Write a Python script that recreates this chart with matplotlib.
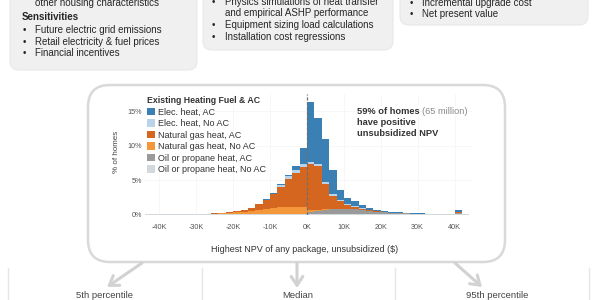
import matplotlib
matplotlib.use('Agg')
import matplotlib.pyplot as plt
import numpy as np
from matplotlib.patches import FancyBboxPatch, Patch

plt.rcParams['font.family'] = ['Liberation Sans', 'DejaVu Sans']

# ---------------- data ----------------
bin_edges_k = list(range(-44, 46, 2))  # $K, 2K-wide bins

categories = ["Elec. heat, AC", "Elec. heat, No AC", "Natural gas heat, AC",
              "Natural gas heat, No AC", "Oil or propane heat, AC", "Oil or propane heat, No AC"]

# % of homes per bin (bins -44..42 lower edges)
oil_noac = [0.1, 0.1, 0.1, 0.1, 0.1, 0.1, 0.1, 0.1, 0.1, 0.05, 0.05, 0.05, 0.05, 0.05, 0.05, 0.05,
            0.05, 0.05, 0.05, 0.05, 0.05, 0.05, 0.1, 0.1, 0.1, 0.1, 0.08, 0.08, 0.07, 0.06, 0.05, 0.04,
            0.03, 0.03, 0.02, 0.02, 0.02, 0.01, 0.01, 0.01, 0.01, 0.01, 0.03, 0.06]
oil_ac = [0, 0, 0, 0, 0, 0, 0, 0, 0, 0, 0, 0, 0, 0.02, 0.02, 0.03,
          0.03, 0.03, 0.04, 0.05, 0.05, 0.08, 0.2, 0.4, 0.6, 0.7, 0.75, 0.75, 0.7, 0.6, 0.48, 0.36,
          0.27, 0.2, 0.16, 0.13, 0.1, 0.08, 0.07, 0.06, 0.05, 0.05, 0.25, 0]
ng_noac = [0, 0, 0, 0, 0, 0, 0, 0, 0, 0.05, 0.1, 0.15, 0.25, 0.35, 0.45, 0.6,
           0.75, 0.85, 0.95, 1.0, 1.0, 0.9, 0.4, 0.2, 0.1, 0.05, 0.03, 0.02, 0.02, 0.01, 0.01, 0,
           0, 0, 0, 0, 0, 0, 0, 0, 0, 0, 0, 0]
ng_ac = [0, 0, 0, 0, 0, 0, 0, 0, 0, 0.05, 0.05, 0.1, 0.15, 0.28, 0.48, 0.82,
         1.32, 2.02, 3.01, 4.1, 4.9, 5.9, 6.6, 6.3, 3.6, 1.9, 1.1, 0.6, 0.35, 0.2, 0.12, 0.08,
         0.05, 0.03, 0.02, 0.02, 0.01, 0.01, 0.01, 0.01, 0, 0, 0.05, 0]
elec_noac = [0, 0, 0, 0, 0, 0, 0, 0, 0, 0, 0, 0, 0, 0, 0, 0,
             0, 0.05, 0.2, 0.4, 0.45, 0.4, 0.3, 0.4, 0.3, 0.2, 0.15, 0.1, 0.08, 0.06, 0.05, 0.04,
             0.03, 0.02, 0.02, 0.01, 0.01, 0.01, 0.01, 0, 0, 0, 0.02, 0]
elec_ac = [0, 0, 0, 0, 0, 0, 0, 0, 0, 0, 0, 0, 0, 0, 0, 0,
           0.05, 0.1, 0.15, 0.2, 0.55, 2.27, 8.7, 6.6, 6.3, 3.55, 1.49, 0.85, 0.68, 0.47, 0.29, 0.18,
           0.12, 0.1, 0.08, 0.07, 0.06, 0.05, 0.04, 0.04, 0.04, 0.04, 0.25, 0]

colors = ["#3a80b4", "#b9d4e8", "#d5661f", "#f4963a", "#9a9a9a", "#d3d8dc"]

x_ticks = [-40, -30, -20, -10, 0, 10, 20, 30, 40]
x_tick_labels = ["-40K", "-30K", "-20K", "-10K", "0K", "10K", "20K", "30K", "40K"]
y_ticks = [0, 5, 10, 15]
y_tick_labels = ["0%", "5%", "10%", "15%"]

# ---------------- figure ----------------
fig = plt.figure(figsize=(6, 3), dpi=100)
bg = fig.add_axes([0, 0, 1, 1], zorder=0)
bg.set_xlim(0, 600)
bg.set_ylim(300, 0)
bg.axis('off')

TXT = '#262626'
# top boxes
for x0, x1, y1 in [(10, 197, 70), (203, 393, 50), (400, 588, 25)]:
    bg.add_patch(FancyBboxPatch((x0, -30), x1 - x0, y1 + 30,
                                boxstyle='round,pad=0,rounding_size=9',
                                fc='#f0f0f0', ec='#e8e8e8', lw=0.8))
fs_top = 7.0
bg.text(35, 2.5, 'other housing characteristics', fontsize=fs_top, color=TXT, va='center')
bg.text(22, 16.7, 'Sensitivities', fontsize=fs_top, color=TXT, va='center', fontweight='bold')
for y, s in [(30, 'Future electric grid emissions'), (41.7, 'Retail electricity & fuel prices'),
             (53.3, 'Financial incentives')]:
    bg.text(23, y, '•', fontsize=fs_top, color=TXT, va='center')
    bg.text(35, y, s, fontsize=fs_top, color=TXT, va='center')

bg.text(212, 1.7, '•', fontsize=fs_top, color=TXT, va='center')
bg.text(225, 1.7, 'Physics simulations of heat transfer', fontsize=fs_top, color=TXT, va='center')
bg.text(225, 13.3, 'and empirical ASHP performance', fontsize=fs_top, color=TXT, va='center')
for y, s in [(25, 'Equipment sizing load calculations'), (36.7, 'Installation cost regressions')]:
    bg.text(212, y, '•', fontsize=fs_top, color=TXT, va='center')
    bg.text(225, y, s, fontsize=fs_top, color=TXT, va='center')

for y, s in [(2.7, 'Incremental upgrade cost'), (14, 'Net present value')]:
    bg.text(410, y, '•', fontsize=fs_top, color=TXT, va='center')
    bg.text(422, y, s, fontsize=fs_top, color=TXT, va='center')

# histogram frame box
bg.add_patch(FancyBboxPatch((88, 85), 417, 177, boxstyle='round,pad=0,rounding_size=22',
                            fc='white', ec='#d9d9d9', lw=1.8))

# arrows and bottom panels
arrow_kw = dict(arrowstyle='->,head_length=0.45,head_width=0.3', color='#d2d2d2', lw=2.2,
                mutation_scale=14, shrinkA=0, shrinkB=0)
bg.annotate('', xy=(107, 287), xytext=(142, 263), arrowprops=arrow_kw)
bg.annotate('', xy=(297, 288), xytext=(297, 263), arrowprops=arrow_kw)
bg.annotate('', xy=(482, 287), xytext=(455, 263), arrowprops=arrow_kw)
for xs in [8, 202, 395, 589]:
    bg.plot([xs, xs], [268, 300], color='#e6e6e6', lw=1)
for x, s in [(104, '5th percentile'), (298, 'Median'), (497, '95th percentile')]:
    bg.text(x, 295, s, fontsize=6.8, color='#444444', ha='center', va='center')

# ---------------- histogram axes ----------------
x0px, ppk = 307.0, 3.69
y0px, ppp = 214.5, 6.88
xmin, xmax = -44.2, 45.0
ymin, ymax = 0, 17.5
Lpx = x0px + xmin * ppk
Wpx = (xmax - xmin) * ppk
Hpx = (ymax - ymin) * ppp
ax = fig.add_axes([Lpx / 600, 1 - y0px / 300, Wpx / 600, Hpx / 300], zorder=1)
ax.patch.set_alpha(0)
ax.set_xlim(xmin, xmax)
ax.set_ylim(ymin, ymax)

edges = np.array(bin_edges_k, dtype=float)
stack_order = [(oil_noac, 5), (oil_ac, 4), (ng_noac, 3), (ng_ac, 2), (elec_noac, 1), (elec_ac, 0)]
cum = np.zeros(len(edges) - 1)
for vals, ci in stack_order:
    top = cum + np.array(vals, dtype=float)
    ax.stairs(top, edges, baseline=cum, fill=True, color=colors[ci], lw=0, zorder=2)
    cum = top

ax.axvline(0, color='#6e6e6e', ls=(0, (2.5, 1.5)), lw=0.9, zorder=3)

for s in ax.spines.values():
    s.set_visible(False)
ax.set_xticks(x_ticks)
ax.set_xticklabels(x_tick_labels)
ax.set_yticks(y_ticks)
ax.set_yticklabels(y_tick_labels)
ax.tick_params(length=0, labelsize=5.2, labelcolor='#555555')
ax.tick_params(axis='x', pad=6.5)
ax.tick_params(axis='y', pad=1.5)
ax.grid(color='#f4f4f4', lw=0.5, zorder=0)
ax.set_axisbelow(True)

ax.set_xlabel('Highest NPV of any package, unsubsidized ($)', fontsize=6.5, color='#333333')
ax.xaxis.set_label_coords((305 - Lpx) / Wpx, (y0px - 250) / Hpx)
ax.xaxis.label.set_va('center')
ax.set_ylabel('% of homes', fontsize=5.8, color='#444444')
ax.yaxis.set_label_coords((117 - Lpx) / Wpx, (y0px - 152) / Hpx)
ax.yaxis.label.set_va('center')

# annotation (drawn in the histogram axes so it sits above the grid)
fs_ann = 6.7
ann_tr = bg.transData
t1 = ax.text(357, 111, '59% of homes', fontsize=fs_ann, color='#333333', fontweight='bold',
             va='center', transform=ann_tr, zorder=6,
             bbox=dict(fc='white', ec='none', pad=0.3))
ax.annotate('(65 million)', xy=(1, 0.5), xycoords=t1, xytext=(2, 0), textcoords='offset points',
            fontsize=fs_ann, color='#8a8a8a', va='center', zorder=6,
            bbox=dict(fc='white', ec='none', pad=0.3))
ax.text(357, 122.3, 'have positive', fontsize=fs_ann, color='#333333', fontweight='bold',
        va='center', transform=ann_tr, zorder=6)
ax.text(357, 133.5, 'unsubsidized NPV', fontsize=fs_ann, color='#333333', fontweight='bold',
        va='center', transform=ann_tr, zorder=6)

handles = [Patch(facecolor=colors[i], edgecolor='none', label=categories[i]) for i in range(6)]
leg = ax.legend(handles=handles, loc='upper left',
                bbox_to_anchor=((147 - Lpx) / Wpx, (y0px - 96) / Hpx),
                frameon=False, title='Existing Heating Fuel & AC',
                title_fontproperties={'weight': 'bold', 'size': 6.3},
                fontsize=6.5, handlelength=0.9, handleheight=0.9, handletextpad=0.3,
                labelspacing=0.28, borderpad=0, borderaxespad=0, alignment='left')
for t in leg.get_texts():
    t.set_color('#333333')
leg.get_title().set_color('#333333')

fig.savefig('out.png', dpi=100)
